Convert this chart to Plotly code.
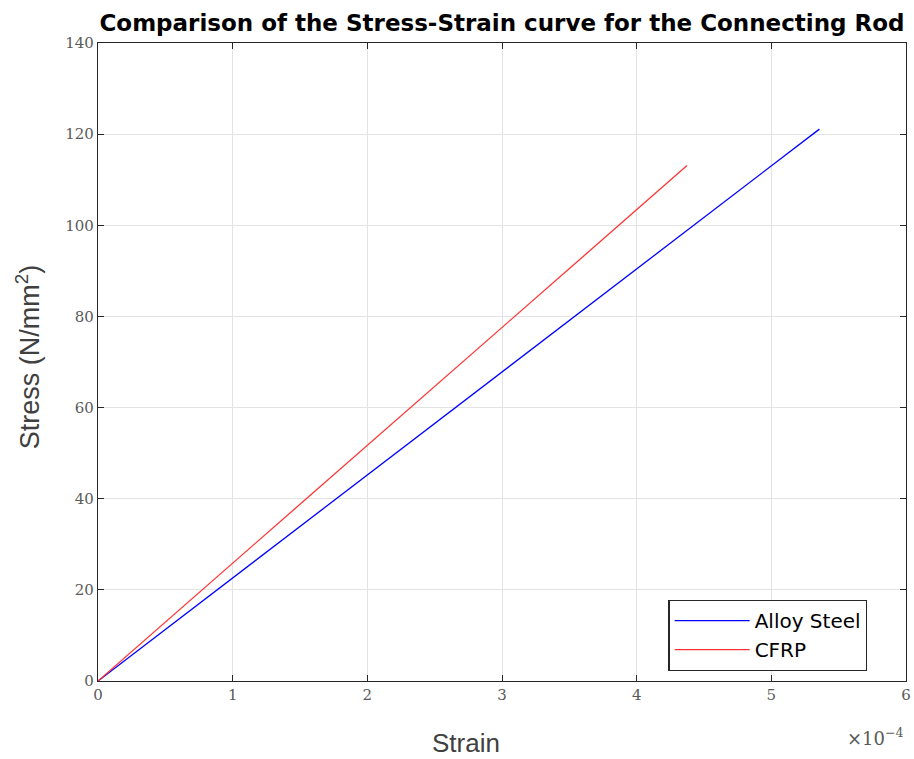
import plotly.graph_objects as go

steel_strain = [0.0, 5.357e-4]
steel_stress = [0.0, 121.1]
cfrp_strain = [0.0, 4.374e-4]
cfrp_stress = [0.0, 113.1]

x_tickvals = [0, 1e-4, 2e-4, 3e-4, 4e-4, 5e-4, 6e-4]
x_ticktext = ["0", "1", "2", "3", "4", "5", "6"]
y_tickvals = [0, 20, 40, 60, 80, 100, 120, 140]

fig = go.Figure()
fig.add_trace(go.Scatter(x=steel_strain, y=steel_stress, mode="lines", name="Alloy Steel",
                         line=dict(color="#0000ff", width=1.3)))
fig.add_trace(go.Scatter(x=cfrp_strain, y=cfrp_stress, mode="lines", name="CFRP",
                         line=dict(color="#ff3333", width=1.3)))

tickfont = dict(family="DejaVu Serif", size=15, color="#5a5a5a")
axcommon = dict(showline=True, linecolor="#262626", linewidth=1.2, mirror="allticks",
                ticks="inside", ticklen=6, tickcolor="#262626",
                showgrid=True, gridcolor="#e3e3e3", gridwidth=1, zeroline=False,
                tickfont=tickfont, automargin=False)

fig.update_xaxes(range=[0, 6e-4], tickvals=x_tickvals, ticktext=x_ticktext, **axcommon)
fig.update_yaxes(range=[0, 140], tickvals=y_tickvals, **axcommon)

fig.update_layout(
    width=914, height=759,
    margin=dict(l=98, r=8, t=43, b=78),
    plot_bgcolor="white", paper_bgcolor="white",
    title=dict(text="<b>Comparison of the Stress-Strain curve for the Connecting Rod</b>",
               font=dict(family="DejaVu Sans", size=23, color="#000000"),
               xref="paper", x=0.5, xanchor="center", y=0.970, yanchor="middle"),
    legend=dict(x=0.706, y=0.127, xanchor="left", yanchor="top",
                bgcolor="white", bordercolor="#262626", borderwidth=1.2,
                font=dict(family="DejaVu Sans", size=20, color="#000000"),
                itemwidth=75, tracegroupgap=0),
    showlegend=True,
)

axis_title_font = dict(family="Liberation Sans", size=26, color="#404040")
fig.add_annotation(text="Strain", xref="paper", yref="paper",
                   x=0.4557, y=-0.0972, xanchor="center", yanchor="middle", showarrow=False,
                   font=axis_title_font)
fig.add_annotation(text="Stress (N/mm<sup>2</sup>)", xref="paper", yref="paper", textangle=-90,
                   x=-0.0867, y=0.509, xanchor="center", yanchor="middle", showarrow=False,
                   font=dict(family="Liberation Sans", size=27, color="#404040"))
fig.add_annotation(text="×10<sup>−4</sup>", xref="paper", yref="paper",
                   x=1.0, y=-0.087, xanchor="right", yanchor="middle", showarrow=False,
                   font=dict(family="DejaVu Serif", size=18, color="#5a5a5a"))

fig.write_html("out.html")
